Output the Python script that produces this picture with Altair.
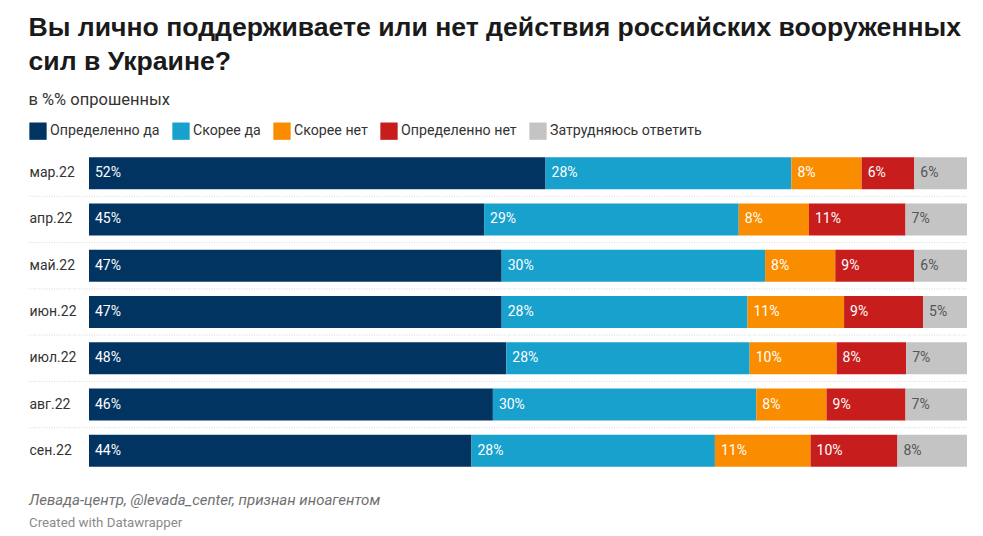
import altair as alt
import pandas as pd

months = ["мар.22", "апр.22", "май.22", "июн.22", "июл.22", "авг.22", "сен.22"]
categories = ["Определенно да", "Скорее да", "Скорее нет", "Определенно нет", "Затрудняюсь ответить"]
colors = ["#023462", "#18a1cd", "#fa8c00", "#c71e1d", "#c4c4c4"]

definitely_yes = [52, 45, 47, 47, 48, 46, 44]
rather_yes = [28, 29, 30, 28, 28, 30, 28]
rather_no = [8, 8, 8, 11, 10, 8, 11]
definitely_no = [6, 11, 9, 9, 8, 9, 10]
hard_to_say = [6, 7, 6, 5, 7, 7, 8]

series = [definitely_yes, rather_yes, rather_no, definitely_no, hard_to_say]
rows = []
for ci, (cat, vals) in enumerate(zip(categories, series)):
    for m, v in zip(months, vals):
        rows.append({"month": m, "cat": cat, "order": ci, "value": v, "label": f"{v}%"})
df = pd.DataFrame(rows)

W, H = 878, 324

base = alt.Chart(df).transform_stack(
    stack="value", groupby=["month"], as_=["x0", "x1"], offset="normalize",
    sort=[alt.SortField("order", order="ascending")]
)

yenc = alt.Y("month:N", sort=months, title=None,
             scale=alt.Scale(paddingInner=0, paddingOuter=0),
             axis=alt.Axis(domain=False, ticks=False, tickSize=0, labelAlign="left",
                           labelPadding=60, labelFontSize=14, labelColor="#333",
                           labelFont="Roboto", grid=False))

bars = base.mark_bar(size=32).encode(
    x=alt.X("x0:Q", axis=None, scale=alt.Scale(domain=[0, 1], nice=False)),
    x2="x1:Q",
    y=yenc,
    color=alt.Color("cat:N", sort=categories,
                    scale=alt.Scale(domain=categories, range=colors),
                    legend=alt.Legend(orient="none", legendX=-60, legendY=-28,
                                      direction="horizontal", title=None,
                                      symbolType="square", symbolSize=300,
                                      symbolStrokeWidth=0, symbolOpacity=1,
                                      labelFontSize=14.2, labelFont="Roboto",
                                      labelColor="#333", columnPadding=12,
                                      labelOffset=3, labelLimit=300)),
)

labels = base.mark_text(align="left", baseline="middle", dx=6, fontSize=14,
                        font="Roboto").encode(
    x=alt.X("x0:Q"),
    y=alt.Y("month:N", sort=months),
    text="label:N",
    color=alt.condition(alt.datum.cat == "Затрудняюсь ответить",
                        alt.value("#555555"), alt.value("white")),
)

sep_df = pd.DataFrame({"month": months[:-1]})
seps = alt.Chart(sep_df).mark_rule(color="#d9d9d9", strokeDash=[1, 1.5], strokeWidth=1).encode(
    y=alt.Y("month:N", sort=months, bandPosition=1),
    x=alt.value(-60),
    x2=alt.value(W),
)

notes_df = pd.DataFrame({
    "text": ["Левада-центр, @levada_center, признан иноагентом", "Created with Datawrapper"],
    "kind": ["source", "credit"],
})
source = alt.Chart(notes_df).transform_filter(alt.datum.kind == "source").mark_text(
    align="left", baseline="middle", fontSize=15, font="Roboto", fontStyle="italic",
    color="#707070").encode(text="text:N", x=alt.value(-60), y=alt.value(H + 26))
credit = alt.Chart(notes_df).transform_filter(alt.datum.kind == "credit").mark_text(
    align="left", baseline="middle", fontSize=13.3, font="Roboto",
    color="#8a8a8a").encode(text="text:N", x=alt.value(-60), y=alt.value(H + 49))

chart = alt.layer(seps, bars, labels, source, credit).resolve_scale(color="independent").properties(
    width=W, height=H,
    background="white",
    padding={"left": 20, "top": 6, "right": 5, "bottom": 5},
    title=alt.TitleParams(
        text=["Вы лично поддерживаете или нет действия российских вооруженных",
              "сил в Украине?"],
        subtitle="в %% опрошенных",
        anchor="start", frame="bounds",
        font="Liberation Sans", fontSize=26.6, fontWeight="bold", color="#1a1a1a",
        lineHeight=34,
        subtitleFont="Roboto", subtitleFontSize=16.5, subtitleColor="#333",
        subtitlePadding=17, offset=13,
    ),
).configure_view(stroke=None)

chart.save("out.html", embed_options={"renderer": "svg", "actions": False})
